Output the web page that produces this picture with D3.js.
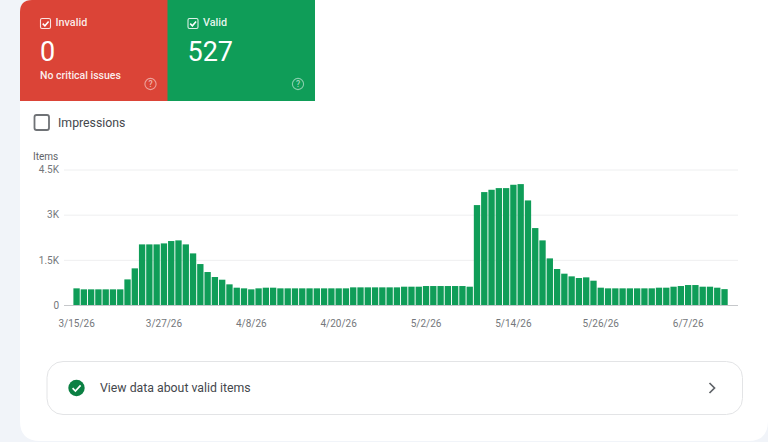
<!DOCTYPE html>
<html>
<head>
<meta charset="utf-8">
<script src="https://cdn.jsdelivr.net/npm/d3@7/dist/d3.min.js"></script>
<style>
  html, body { margin: 0; padding: 0; background: #f1f4f9; }
  svg { display: block; font-family: Roboto, sans-serif; }
</style>
</head>
<body>
<svg id="chart" width="768" height="442"></svg>
<script>
// Daily count of valid items, one bar per day from 3/15/26
const firstDay = new Date(2026, 2, 15);
const validItems = [
  553, 520, 520, 520, 520, 520, 520, 850, 1217, 2013,
  2013, 2013, 2046, 2124, 2146, 2013, 1714, 1360, 1095, 929,
  840, 686, 575, 553, 520, 553, 575, 575, 553, 553,
  553, 553, 553, 553, 553, 553, 553, 553, 586, 586,
  586, 586, 586, 586, 586, 608, 608, 608, 630, 630,
  630, 630, 630, 630, 608, 3318, 3750, 3827, 3882, 3882,
  3993, 4015, 3473, 2555, 2146, 1548, 1195, 1040, 951, 896,
  918, 807, 575, 553, 553, 553, 553, 553, 553, 553,
  575, 575, 608, 630, 663, 663, 608, 608, 575, 527
];
const yTicks = [0, 1500, 3000, 4500];
const yTickLabels = ["0", "1.5K", "3K", "4.5K"];
const xTickLabels = ["3/15/26", "3/27/26", "4/8/26", "4/20/26", "5/2/26", "5/14/26", "5/26/26", "6/7/26"];
const tiles = [
  { name: "Invalid", count: "0", note: "No critical issues", color: "#db4437" },
  { name: "Valid", count: "527", note: "", color: "#0f9d58" }
];

const days = validItems.map((_, i) => d3.timeDay.offset(firstDay, i));
const dayLabel = d3.timeFormat("%-m/%-d/%y");

const svg = d3.select("#chart");
const plot = { left: 64, right: 738, top: 169.5, bottom: 305 };

// Card with rounded corners; the status tiles are clipped to it
svg.append("defs").append("clipPath").attr("id", "card-clip")
  .append("path")
  .attr("d", "M32,0 H768 V421 Q768,441 748,441 H40 Q20,441 20,421 V12 Q20,0 32,0 Z");
const card = svg.append("g").attr("clip-path", "url(#card-clip)");
card.append("rect").attr("x", 20).attr("y", 0).attr("width", 748).attr("height", 442).attr("fill", "#ffffff");

// Status tiles; each runs slightly under the next so no seam shows between them
const tileX = d3.scaleBand().domain(tiles.map(d => d.name)).range([20, 315]);
const tile = card.selectAll("g.tile").data(tiles).join("g")
  .attr("class", "tile")
  .attr("transform", d => `translate(${tileX(d.name)},0)`);
tile.append("rect")
  .attr("width", (d, i) => tileX.bandwidth() + (i === 0 ? 1 : 0)).attr("height", 101)
  .attr("fill", d => d.color);
tile.append("rect")
  .attr("x", 20.5).attr("y", 18.5).attr("width", 10).attr("height", 10).attr("rx", 1.5)
  .attr("fill", "none").attr("stroke", "#fff").attr("stroke-opacity", 0.85).attr("stroke-width", 1.1);
tile.append("path")
  .attr("d", "M22.7,23.6 L24.9,25.8 L28.6,21.4")
  .attr("fill", "none").attr("stroke", "#fff").attr("stroke-width", 1.5);
tile.append("text")
  .attr("x", 35.5).attr("y", 26)
  .attr("fill", "#fff").attr("fill-opacity", 0.9)
  .attr("font-size", 10.8).attr("font-weight", 500)
  .text(d => d.name);
tile.append("text")
  .attr("x", 20).attr("y", 61)
  .attr("fill", "#fff").attr("font-size", 27)
  .text(d => d.count);
tile.append("text")
  .attr("x", 20).attr("y", 78.5)
  .attr("fill", "#fff").attr("fill-opacity", 0.92)
  .attr("font-size", 10.5).attr("font-weight", 500)
  .text(d => d.note);
tile.append("circle")
  .attr("cx", 130.5).attr("cy", 84).attr("r", 5.6)
  .attr("fill", "none").attr("stroke", "#fff").attr("stroke-opacity", 0.5).attr("stroke-width", 1.1);
tile.append("text")
  .attr("x", 130.5).attr("y", 87)
  .attr("text-anchor", "middle")
  .attr("fill", "#fff").attr("fill-opacity", 0.6)
  .attr("font-size", 8.5).attr("font-weight", 500)
  .text("?");

// Impressions toggle
svg.append("rect")
  .attr("x", 34.5).attr("y", 115).attr("width", 14.5).attr("height", 15).attr("rx", 2)
  .attr("fill", "#fff").attr("stroke", "#6f7276").attr("stroke-width", 1.8);
svg.append("text")
  .attr("x", 58).attr("y", 127)
  .attr("fill", "#44474c").attr("font-size", 12.3)
  .text("Impressions");

// Scales
const x = d3.scaleBand()
  .domain(days.map(dayLabel))
  .range([73.4, 73.4 + 7.27 * validItems.length])
  .paddingInner(0.13)
  .paddingOuter(0);
const y = d3.scaleLinear().domain([0, 4500]).range([plot.bottom, plot.top]);

// Value axis and gridlines
const yAxis = svg.append("g")
  .attr("transform", `translate(${plot.left},0)`)
  .call(d3.axisLeft(y)
    .tickValues(yTicks)
    .tickFormat((d, i) => yTickLabels[i])
    .tickSize(0)
    .tickPadding(5));
yAxis.select(".domain").remove();
yAxis.selectAll("text").attr("fill", "#74777b").attr("font-size", 10).attr("font-family", "Roboto, sans-serif");
yAxis.selectAll(".tick line")
  .attr("x1", 0).attr("x2", plot.right - plot.left)
  .attr("stroke", d => d === 0 ? "#c6c8cb" : "#eeeff0").attr("stroke-width", 1);

svg.append("text")
  .attr("x", 33).attr("y", 159.5)
  .attr("fill", "#5f6368").attr("font-size", 10)
  .text("Items");

// Bars
svg.append("g").selectAll("rect").data(validItems).join("rect")
  .attr("x", (d, i) => x(dayLabel(days[i])))
  .attr("y", d => y(d))
  .attr("width", x.bandwidth())
  .attr("height", d => y(0) - y(d))
  .attr("fill", "#0f9d58");

// Date axis
const xAxis = svg.append("g")
  .attr("transform", `translate(0,${plot.bottom})`)
  .call(d3.axisBottom(x)
    .tickValues(xTickLabels)
    .tickSize(0)
    .tickPadding(14.5));
xAxis.select(".domain").remove();
xAxis.selectAll("text").attr("fill", "#74777b").attr("font-size", 10).attr("font-family", "Roboto, sans-serif");

// Link row below the chart
svg.append("rect")
  .attr("x", 47).attr("y", 361.5).attr("width", 695.5).attr("height", 53).attr("rx", 16)
  .attr("fill", "#fff").attr("stroke", "#e3e4e6").attr("stroke-width", 1);
svg.append("circle").attr("cx", 76.5).attr("cy", 388).attr("r", 8.2).attr("fill", "#0b8043");
svg.append("path")
  .attr("d", "M72.6,388.2 L75.4,391 L80.6,385.4")
  .attr("fill", "none").attr("stroke", "#fff").attr("stroke-width", 1.7);
svg.append("text")
  .attr("x", 100).attr("y", 392)
  .attr("fill", "#44474c").attr("font-size", 12.3)
  .text("View data about valid items");
svg.append("path")
  .attr("d", "M709.5,383 L714.5,388 L709.5,393")
  .attr("fill", "none").attr("stroke", "#5f6368").attr("stroke-width", 1.7);
</script>
</body>
</html>
